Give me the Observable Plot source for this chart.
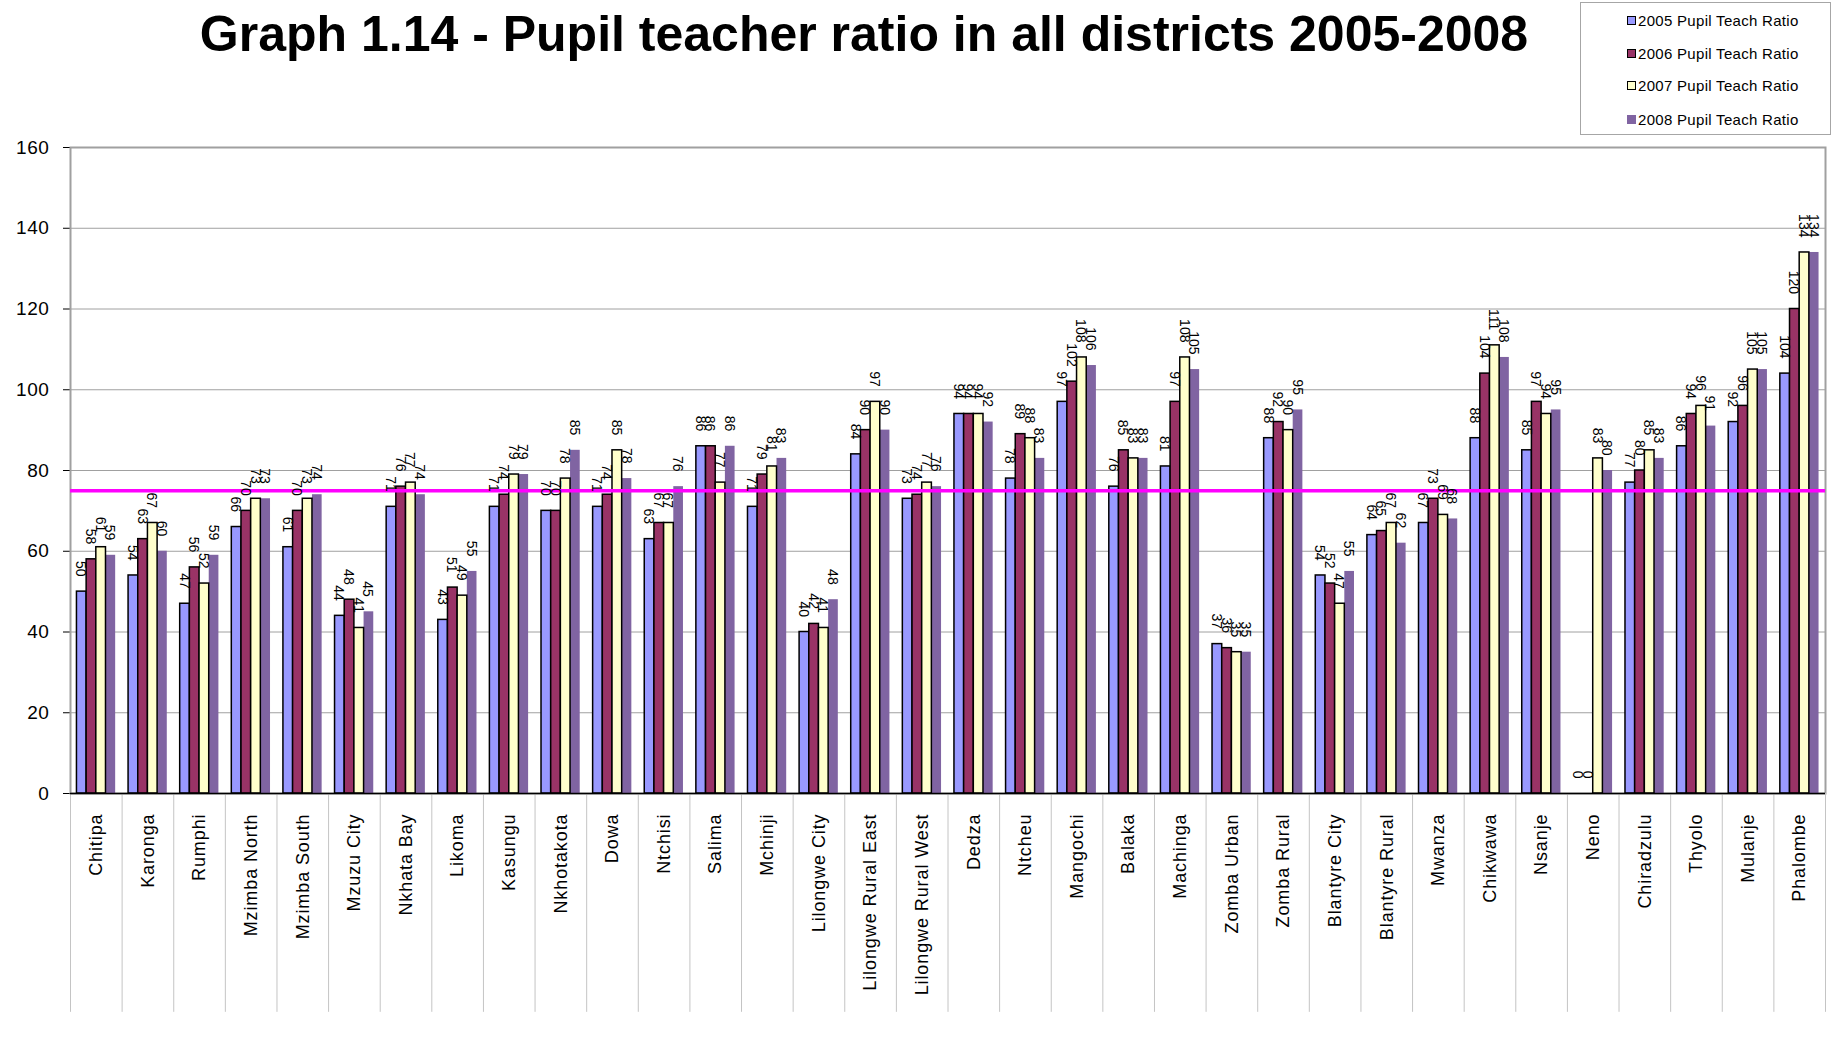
<!DOCTYPE html>
<html>
<head>
<meta charset="utf-8">
<script src="https://cdn.jsdelivr.net/npm/d3@7"></script>
<script src="https://cdn.jsdelivr.net/npm/@observablehq/plot@0.6"></script>
<style>
  body { margin: 0; background: #fff; font-family: Arial, "Liberation Sans", sans-serif; }
  #wrap { position: relative; width: 1834px; height: 1060px; overflow: hidden; background: #fff; }
  #title { position: absolute; left: 0; top: 4px; width: 1728px; text-align: center; font-weight: bold; font-size: 50px; color: #000; margin: 0; line-height: 60px; }
  #legend { position: absolute; left: 1580px; top: 2px; width: 251px; height: 133px; border: 1px solid #a6a6a6; box-sizing: border-box; background: #fff; }
  .item { position: absolute; left: 46px; height: 20px; line-height: 20px; font-size: 15px; letter-spacing: 0.3px; white-space: nowrap; color: #000; }
  .sw { display: inline-block; width: 7px; height: 7px; margin-right: 2px; vertical-align: 1px; box-sizing: content-box; }
  #chart { position: absolute; left: 0; top: 137px; }
  #chart svg [aria-label^="x-axis"] text { font-size: 18px; letter-spacing: 0.9px; }
  #chart svg [aria-label^="y-axis"] text { letter-spacing: 0.6px; }
</style>
</head>
<body>
<div id="wrap">
  <h1 id="title"></h1>
  <div id="legend"></div>
  <div id="chart"></div>
</div>
<script>
const titleText = "Graph 1.14 - Pupil teacher ratio in all districts 2005-2008";

const districts = ["Chitipa", "Karonga", "Rumphi", "Mzimba North", "Mzimba South", "Mzuzu City", "Nkhata Bay", "Likoma", "Kasungu", "Nkhotakota", "Dowa", "Ntchisi", "Salima", "Mchinji", "Lilongwe City", "Lilongwe Rural East", "Lilongwe Rural West", "Dedza", "Ntcheu", "Mangochi", "Balaka", "Machinga", "Zomba Urban", "Zomba Rural", "Blantyre City", "Blantyre Rural", "Mwanza", "Chikwawa", "Nsanje", "Neno", "Chiradzulu", "Thyolo", "Mulanje", "Phalombe"];

const seriesNames = ["2005 Pupil Teach Ratio", "2006 Pupil Teach Ratio", "2007 Pupil Teach Ratio", "2008 Pupil Teach Ratio"];

const ratio2005 = [50, 54, 47, 66, 61, 44, 71, 43, 71, 70, 71, 63, 86, 71, 40, 84, 73, 94, 78, 97, 76, 81, 37, 88, 54, 64, 67, 88, 85, 0, 77, 86, 92, 104];
const ratio2006 = [58, 63, 56, 70, 70, 48, 76, 51, 74, 70, 74, 67, 86, 79, 42, 90, 74, 94, 89, 102, 85, 97, 36, 92, 52, 65, 73, 104, 97, 0, 80, 94, 96, 120];
const ratio2007 = [61, 67, 52, 73, 73, 41, 77, 49, 79, 78, 85, 67, 77, 81, 41, 97, 77, 94, 88, 108, 83, 108, 35, 90, 47, 67, 69, 111, 94, 83, 85, 96, 105, 134];
const ratio2008 = [59, 60, 59, 73, 74, 45, 74, 55, 79, 85, 78, 76, 86, 83, 48, 90, 76, 92, 83, 106, 83, 105, 35, 95, 55, 62, 68, 108, 95, 80, 83, 91, 105, 134];

const seriesColors = ["#9999FF", "#993366", "#FFFFCC", "#8064A2"];
const seriesOutlined = [true, true, true, false];
const targetRatio = 75;
const yTicks = [0, 20, 40, 60, 80, 100, 120, 140, 160];

// title
document.getElementById("title").textContent = titleText;

// legend
const legend = document.getElementById("legend");
const legendTops = [8, 41, 73, 107];
seriesNames.forEach((name, j) => {
  const it = document.createElement("div");
  it.className = "item";
  it.style.top = legendTops[j] + "px";
  const sw = document.createElement("span");
  sw.className = "sw";
  sw.style.background = seriesColors[j];
  sw.style.border = seriesOutlined[j] ? "1.5px solid #000" : "1.5px solid " + seriesColors[j];
  it.appendChild(sw);
  it.appendChild(document.createTextNode(name));
  legend.appendChild(it);
});

// data table
const allSeries = [ratio2005, ratio2006, ratio2007, ratio2008];
const groupInset = 0.125;   // fraction of a district slot before the first bar
const barSlot = 0.1875;     // fraction of a district slot per bar
const rows = [];
districts.forEach((d, i) => {
  allSeries.forEach((vals, j) => {
    const x1 = i + groupInset + j * barSlot;
    rows.push({district: d, series: seriesNames[j], outlined: seriesOutlined[j], value: vals[i], x1, x2: x1 + barSlot, xm: x1 + barSlot / 2});
  });
});

const chart = Plot.plot({
  width: 1834,
  height: 923,
  marginLeft: 70,
  marginRight: 9,
  marginTop: 10,
  marginBottom: 267,
  style: {fontFamily: "Arial, 'Liberation Sans', sans-serif", fontSize: "19px", background: "transparent", color: "#000"},
  x: {
    domain: [0, districts.length],
    ticks: districts.map((d, i) => i + 0.5),
    tickFormat: v => districts[Math.floor(v)],
    tickRotate: -90,
    tickSize: 0,
    tickPadding: 20,
    label: null
  },
  y: {
    domain: [0, 160],
    ticks: yTicks,
    tickSize: 7,
    tickPadding: 14,
    label: null,
    line: true
  },
  color: {domain: seriesNames, range: seriesColors},
  marks: [
    Plot.ruleY(yTicks.filter(t => t > 0), {stroke: "#a0a0a0", strokeWidth: 1}),
    Plot.frame({stroke: "#a0a0a0", strokeWidth: 2}),
    Plot.ruleX(d3.range(0, districts.length + 1), {y1: 0, y2: -54.2, stroke: "#c4c4c4", strokeWidth: 1}),
    Plot.rectY(rows.filter(r => !r.outlined), {x1: "x1", x2: "x2", y: "value", fill: "series"}),
    Plot.rectY(rows.filter(r => r.outlined), {x1: "x1", x2: "x2", y: "value", fill: "series", stroke: "#000", strokeWidth: 1.5}),
    Plot.ruleY([0], {stroke: "#000", strokeWidth: 1.5}),
    Plot.ruleY([targetRatio], {stroke: "#FF00FF", strokeWidth: 3.5}),
    Plot.text(rows, {x: "xm", y: "value", text: d => String(d.value), rotate: 90, textAnchor: "end", dy: -15, dx: -1, fontSize: 14, fill: "#000"})
  ]
});
document.getElementById("chart").appendChild(chart);
</script>
</body>
</html>
